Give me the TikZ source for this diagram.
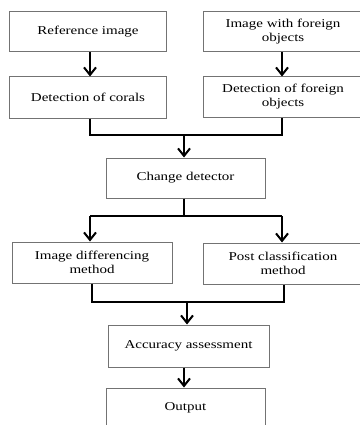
\documentclass[tikz,border=0pt]{standalone}
\usepackage{fontspec}
\newfontfamily\boxfont[FakeStretch=1.25]{Liberation Serif}
\usetikzlibrary{arrows.meta}
\tikzset{
  box/.style={draw=black!55, line width=1pt, fill=white, align=center,
    font=\boxfont\fontsize{12}{14}\selectfont, text=black, inner sep=0pt},
  conn/.style={draw=black, line width=2pt},
  arr/.style={conn, -{Straight Barb[length=7.5pt,width=12pt,line width=2pt]}}
}
\begin{document}
\begin{tikzpicture}[x=1pt,y=-1pt]
\useasboundingbox (0,0) rectangle (359,425);
% boxes
\node[box, minimum width=157pt, minimum height=40pt] (b1) at (88,32) {Reference image};
\node[box, minimum width=160pt, minimum height=40pt] (b2) at (283,32) {Image with foreign\\objects};
\node[box, minimum width=157pt, minimum height=41pt] (b3) at (88,97.5) {Detection of corals};
\node[box, minimum width=160pt, minimum height=40pt] (b4) at (283,97) {Detection of foreign\\objects};
\node[box, minimum width=159pt, minimum height=40pt] (cd) at (185.5,178) {Change detector};
\node[box, minimum width=160pt, minimum height=41pt] (idm) at (92,262.5) {Image differencing\\method};
\node[box, minimum width=160pt, minimum height=41pt] (pcm) at (283,263.5) {Post classification\\method};
\node[box, minimum width=161pt, minimum height=42pt] (aa) at (188.5,346) {Accuracy assessment};
\node[box, minimum width=159pt, minimum height=40pt] (out) at (185.5,408) {Output};
% column coordinates
\coordinate (cl) at (90,0);
\coordinate (cr) at (282,0);
\coordinate (j1) at (184,135);
\coordinate (j2) at (184,216);
\coordinate (j3) at (187,302);
% connectors
\draw[arr] (b1.south -| cl) -- (b3.north -| cl);
\draw[arr] (b2.south -| cr) -- (b4.north -| cr);
\draw[conn] (b3.south -| cl) |- (j1) -| (b4.south -| cr);
\draw[arr] (j1) -- (cd.north -| j1);
\draw[conn] (cd.south -| j2) -- (j2);
\draw[conn] (j2 -| cl) -- (j2 -| cr);
\draw[arr] (j2 -| cl) -- (idm.north -| cl);
\draw[arr] (j2 -| cr) -- (pcm.north -| cr);
\draw[conn] ([xshift=2pt]idm.south -| cl) |- (j3) -| ([xshift=2pt]pcm.south -| cr);
\draw[arr] (j3) -- (aa.north -| j3);
\draw[arr] (aa.south -| j1) -- (out.north -| j1);
\end{tikzpicture}
\end{document}
